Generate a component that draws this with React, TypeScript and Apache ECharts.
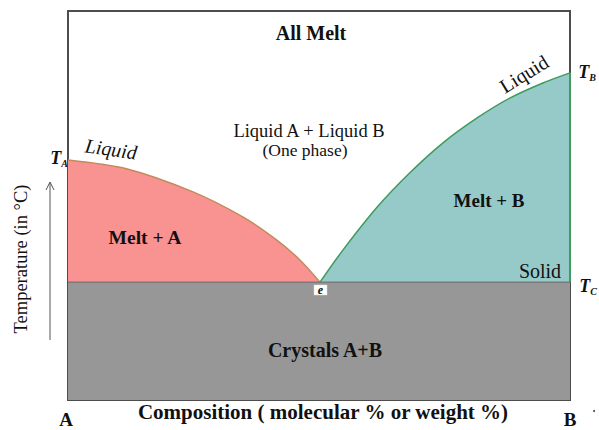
import React, { useEffect, useRef } from "react";
import * as echarts from "echarts";

// Composition (% of B) vs temperature (relative units)
const liquidusA: [number, number][] = [
  [0, 61.7], [11.8, 59.4], [24.9, 53.5], [34.9, 47.0], [41.6, 41.1], [46.2, 36.0], [50.2, 30.3],
];
const liquidusB: [number, number][] = [
  [50.2, 30.3], [54.8, 38.6], [61.6, 49.6], [68.1, 58.4], [74.7, 66.1], [81.5, 72.5], [88.0, 77.6], [94.6, 81.5], [100, 84.1],
];
const solidus: [number, number][] = [[0, 30.3], [100, 30.3]];
const rightEdgeB: [number, number][] = [[100, 84.1], [100, 30.3]];

const SERIF = "'Liberation Serif', 'DejaVu Serif', serif";

export default function App() {
  const ref = useRef<HTMLDivElement>(null);
  useEffect(() => {
    document.body.style.margin = "0";
    if (!ref.current) return;
    const chart = echarts.init(ref.current, null, { renderer: "svg" });
    const txt = (x: number, y: number, text: string, size: number, bold = false, extra: any = {}) => ({
      type: "text",
      x,
      y,
      z: 100,
      rotation: extra.rotation || 0,
      style: {
        text,
        fontFamily: SERIF,
        fontSize: size,
        fontWeight: bold ? "bold" : "normal",
        fontStyle: extra.italic ? "italic" : "normal",
        fill: extra.fill || "#111",
        align: "center",
        verticalAlign: "middle",
      },
    });
    const tLabel = (x: number, y: number, sub: string) => ({
      type: "text",
      x,
      y,
      z: 100,
      style: {
        text: `{t|T}{s|${sub}}`,
        align: "center",
        verticalAlign: "middle",
        rich: {
          t: { fontFamily: SERIF, fontSize: 18, fontWeight: "bold", fontStyle: "italic", fill: "#111" },
          s: { fontFamily: SERIF, fontSize: 10, fontWeight: "bold", fontStyle: "italic", fill: "#111", padding: [10, 0, 0, 0] },
        },
      },
    });
    chart.setOption({
      animation: false,
      backgroundColor: "#fff",
      grid: { left: 68, right: 29, top: 11, bottom: 30, show: true, borderColor: "#4d4d4d", borderWidth: 2, backgroundColor: "#fff" },
      xAxis: { type: "value", min: 0, max: 100, show: false },
      yAxis: { type: "value", min: 0, max: 100, show: false },
      series: [
        {
          type: "line",
          data: liquidusA,
          smooth: 0.3,
          showSymbol: false,
          lineStyle: { color: "#c28a5a", width: 1.5 },
          areaStyle: { color: "#f99391", opacity: 1 },
          z: 2,
        },
        {
          type: "line",
          data: liquidusB,
          smooth: 0.3,
          showSymbol: false,
          lineStyle: { color: "#3f9a5e", width: 1.5 },
          areaStyle: { color: "#96cac9", opacity: 1 },
          z: 2,
        },
        {
          type: "line",
          data: solidus,
          showSymbol: false,
          lineStyle: { color: "#7a7a7a", width: 1.5 },
          areaStyle: { color: "#979797", opacity: 1 },
          z: 3,
        },
        {
          type: "line",
          data: rightEdgeB,
          showSymbol: false,
          lineStyle: { color: "#3f9a5e", width: 2 },
          z: 4,
        },
      ],
      graphic: [
        txt(311, 33, "All Melt", 20, true),
        txt(309, 131, "Liquid A + Liquid B", 18.5),
        txt(305, 150, "(One phase)", 17.5),
        txt(111, 149, "Liquid", 20, false, { italic: true, rotation: -0.14 }),
        txt(524, 74, "Liquid", 20, false, { rotation: 0.55 }),
        txt(145, 237, "Melt + A", 19.5, true),
        txt(489, 200, "Melt + B", 19, true),
        txt(540, 271, "Solid", 20),
        txt(325, 350, "Crystals A+B", 20, true),
        {
          type: "rect",
          z: 100,
          shape: { x: 314, y: 285, width: 13, height: 10 },
          style: { fill: "#fff", stroke: "#ddd", lineWidth: 0.5 },
        },
        txt(320.5, 290, "e", 12, true, { italic: true }),
        tLabel(59, 158, "A"),
        tLabel(587, 72, "B"),
        tLabel(588, 286, "C"),
        {
          type: "text",
          x: 21,
          y: 259,
          rotation: Math.PI / 2,
          z: 100,
          style: { text: "Temperature (in °C)", fontFamily: SERIF, fontSize: 18.5, fill: "#111", align: "center", verticalAlign: "middle" },
        },
        { type: "line", z: 100, shape: { x1: 50, y1: 340, x2: 50, y2: 183 }, style: { stroke: "#555", lineWidth: 1 } },
        { type: "polyline", z: 100, shape: { points: [[46, 190], [50, 182], [54, 190]] }, style: { stroke: "#555", lineWidth: 1, fill: "none" } },
        txt(66, 419, "A", 19, true),
        txt(323, 412, "Composition ( molecular % or weight %)", 21, true),
        txt(570, 419, "B", 19, true),
        { type: "circle", z: 100, shape: { cx: 594, cy: 411, r: 1 }, style: { fill: "#444" } },
      ],
    });
    return () => chart.dispose();
  }, []);
  return <div ref={ref} style={{ width: 599, height: 430 }} />;
}
